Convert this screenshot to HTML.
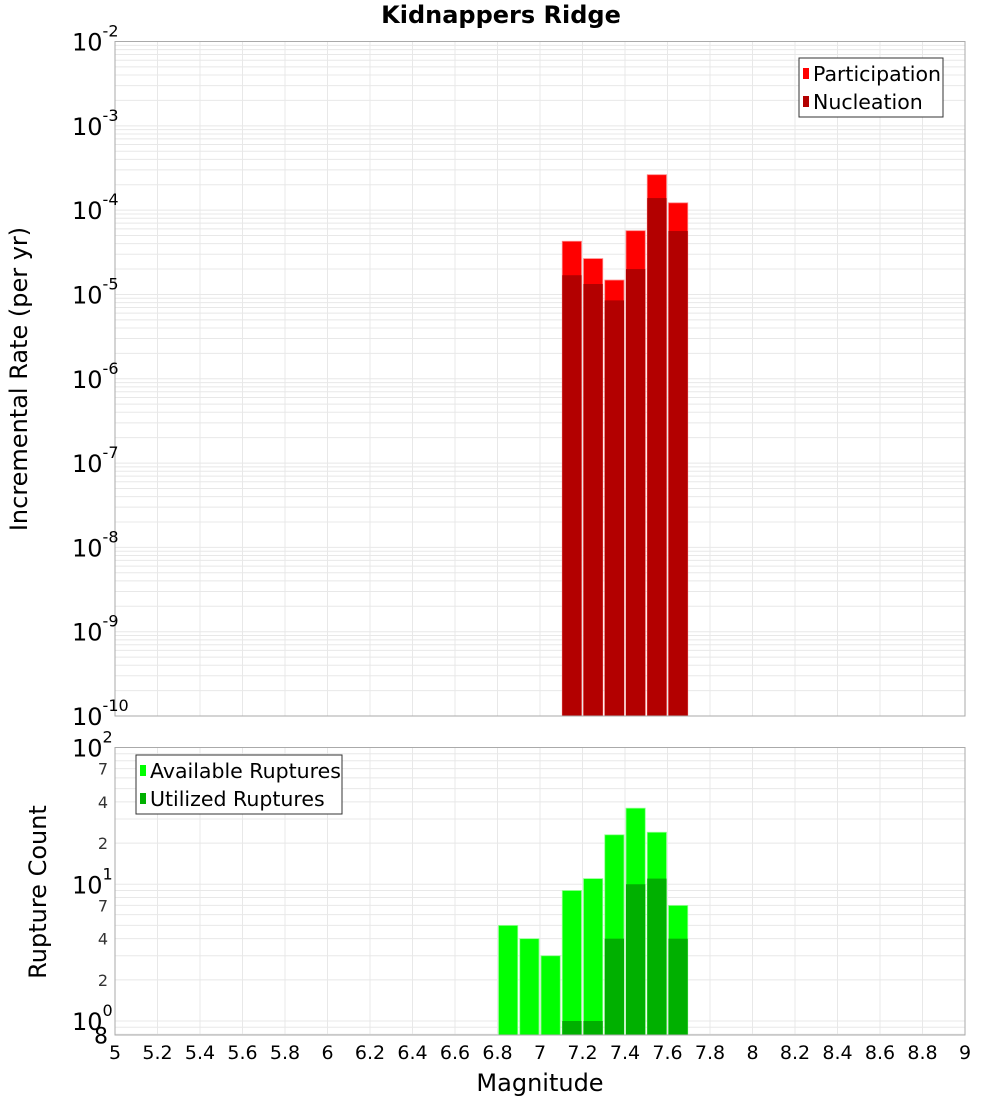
<!DOCTYPE html>
<html><head><meta charset="utf-8"><style>
body{margin:0;background:#fff;}
svg text{font-family:"DejaVu Sans","Liberation Sans",sans-serif;}
</style></head><body>
<svg id="chart" width="1000" height="1100" xmlns="http://www.w3.org/2000/svg"></svg>
<script>
const binCenters = [7.15, 7.25, 7.35, 7.45, 7.55, 7.65];
const participation = [4.27e-5, 2.66e-5, 1.48e-5, 5.7e-5, 2.63e-4, 1.22e-4];
const nucleation = [1.69e-5, 1.33e-5, 8.5e-6, 2.0e-5, 1.39e-4, 5.65e-5];
const countCenters = [6.85, 6.95, 7.05, 7.15, 7.25, 7.35, 7.45, 7.55, 7.65];
const available = [5, 4, 3, 9, 11, 23, 36, 24, 7];
const utilized = [0, 0, 0, 1, 1, 4, 10, 11, 4];
const xTicks = [5,5.2,5.4,5.6,5.8,6,6.2,6.4,6.6,6.8,7,7.2,7.4,7.6,7.8,8,8.2,8.4,8.6,8.8,9];
const topExps = [-2,-3,-4,-5,-6,-7,-8,-9,-10];
const botMinorLabels = [7,4,2];

const NS="http://www.w3.org/2000/svg";
const svg=document.getElementById('chart');
function el(tag,attrs,parent){const e=document.createElementNS(NS,tag);for(const k in attrs)e.setAttribute(k,attrs[k]);(parent||svg).appendChild(e);return e;}
const X0=115,X1=965;
const xs=m=>X0+(m-5)/(9-5)*(X1-X0);
const T0=41.5,T1=716;
const ty=v=>T0+(-2-Math.log10(v))/8*(T1-T0);
const B0=747.5,B1=1035,bMin=0.79,bMax=100;
const by=v=>B0+(Math.log10(bMax)-Math.log10(v))/(Math.log10(bMax)-Math.log10(bMin))*(B1-B0);

let t=el('text',{x:501,y:23,'text-anchor':'middle','font-size':24,'font-weight':'bold'});t.textContent='Kidnappers Ridge';



const gTop=el('g',{});


for(let e=-10;e<-2;e++){for(let k=1;k<10;k++){const y=ty(k*Math.pow(10,e));el('line',{x1:X0,x2:X1,y1:y,y2:y,stroke:'#e8e8e8','stroke-width':1},gTop);}}
xTicks.forEach(m=>{el('line',{x1:xs(m),x2:xs(m),y1:T0,y2:T1,stroke:'#e8e8e8'},gTop);});
const gBot=el('g',{});


[0.8,0.9,1,2,3,4,5,6,7,8,9,10,20,30,40,50,60,70,80,90].forEach(v=>{const y=by(v);el('line',{x1:X0,x2:X1,y1:y,y2:y,stroke:'#e8e8e8'},gBot);});
xTicks.forEach(m=>{el('line',{x1:xs(m),x2:xs(m),y1:B0,y2:B1,stroke:'#e8e8e8'},gBot);});

const w=xs(5.1)-xs(5);
binCenters.forEach((m,i)=>{
  const x=xs(m)-w/2+1;
  let r=el('rect',{x:x,y:ty(participation[i]),width:w-2,height:T1-ty(participation[i]),fill:'#ff0000',stroke:'#ff8080','stroke-width':0.8});
  
  
  r=el('rect',{x:x,y:ty(nucleation[i]),width:w-2,height:T1-ty(nucleation[i]),fill:'#b30000'});
  
  
});
countCenters.forEach((m,i)=>{
  const x=xs(m)-w/2+1;
  let r=el('rect',{x:x,y:by(available[i]),width:w-2,height:B1-by(available[i]),fill:'#00ff00',stroke:'#90ff90','stroke-width':0.8});
  
  
  if(utilized[i]>0){
    r=el('rect',{x:x,y:by(utilized[i]),width:w-2,height:B1-by(utilized[i]),fill:'#00b000'});
    
    
  }
});

el('rect',{x:X0,y:T0,width:X1-X0,height:T1-T0,fill:'none',stroke:'#aaa'});
el('rect',{x:X0,y:B0,width:X1-X0,height:B1-B0,fill:'none',stroke:'#aaa'});

topExps.forEach(e=>{
  const y=ty(Math.pow(10,e));
  const g=el('text',{x:72,y:y+9,'font-size':24});
  
  
  g.textContent='10';
  const s=el('tspan',{dy:-14,'font-size':16});s.textContent=String(e);g.appendChild(s);
});
[2,1,0].forEach(e=>{
  const y=by(Math.pow(10,e));
  const g=el('text',{x:72,y:y+9,'font-size':24});
  
  
  g.textContent='10';
  const s=el('tspan',{dy:-14,'font-size':16});s.textContent=String(e);g.appendChild(s);
});
[1,10].forEach(d=>{botMinorLabels.forEach(k=>{
  const tt=el('text',{x:108,y:by(k*d)+6,'font-size':16,'text-anchor':'end',fill:'#333'});tt.textContent=String(k);
  
  
});});
t=el('text',{x:108,y:by(0.8)+9,'font-size':22,'text-anchor':'end'});t.textContent='8';



xTicks.forEach(m=>{
  const tt=el('text',{x:xs(m),y:1059,'font-size':19,'text-anchor':'middle'});tt.textContent=String(m);
  
  
});
t=el('text',{x:540,y:1091,'font-size':24,'text-anchor':'middle'});t.textContent='Magnitude';


t=el('text',{x:0,y:0,'font-size':24,'text-anchor':'middle',transform:'translate(27,379) rotate(-90)'});t.textContent='Incremental Rate (per yr)';


t=el('text',{x:0,y:0,'font-size':24,'text-anchor':'middle',transform:'translate(46,892) rotate(-90)'});t.textContent='Rupture Count';



function legend(x,y,wd,items,name){
  const g=el('g',{});
  
  
  el('rect',{x:x,y:y,width:wd,height:59,fill:'#fff',stroke:'#333','stroke-width':1},g);
  items.forEach((it,i)=>{
    const cy=y+15+i*28;
    el('rect',{x:x+4,y:cy-5,width:6,height:11,fill:it[1]},g);
    const tt=el('text',{x:x+14,y:cy+8,'font-size':20.5},g);tt.textContent=it[0];
  });
}
legend(799,58,144,[['Participation','#ff0000'],['Nucleation','#b30000']],'top-legend');
legend(136,755,206,[['Available Ruptures','#00ff00'],['Utilized Ruptures','#00b000']],'bottom-legend');
</script>
</body></html>
